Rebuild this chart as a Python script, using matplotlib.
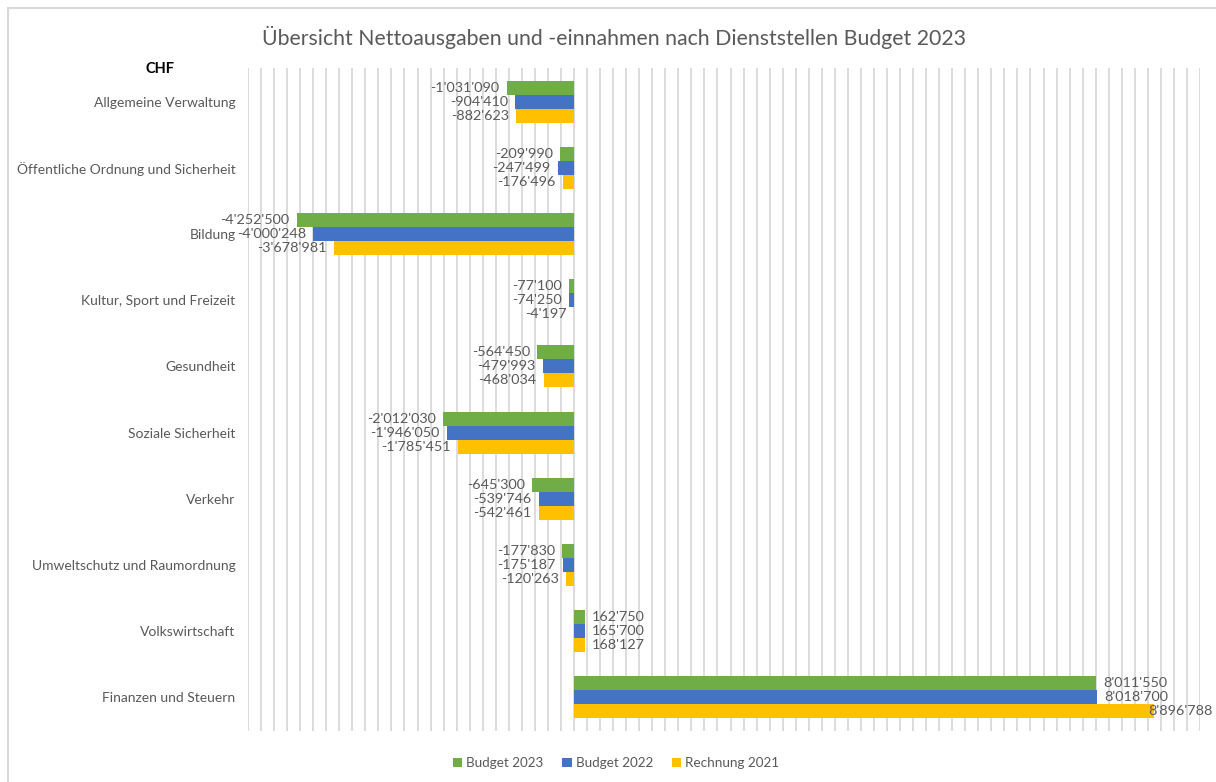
import matplotlib
matplotlib.use("Agg")
import matplotlib.pyplot as plt
from matplotlib.patches import Rectangle
import numpy as np

plt.rcParams['font.family'] = ['Lato', 'DejaVu Sans']

categories = ["Allgemeine Verwaltung", "Öffentliche Ordnung und Sicherheit", "Bildung",
              "Kultur, Sport und Freizeit", "Gesundheit", "Soziale Sicherheit", "Verkehr",
              "Umweltschutz und Raumordnung", "Volkswirtschaft", "Finanzen und Steuern"]
budget_2023 = [-1031090, -209990, -4252500, -77100, -564450, -2012030, -645300, -177830, 162750, 8011550]
budget_2022 = [-904410, -247499, -4000248, -74250, -479993, -1946050, -539746, -175187, 165700, 8018700]
rechnung_2021 = [-882623, -176496, -3678981, -4197, -468034, -1785451, -542461, -120263, 168127, 8896788]

series = [("Budget 2023", budget_2023, "#70AD47"),
          ("Budget 2022", budget_2022, "#4472C4"),
          ("Rechnung 2021", rechnung_2021, "#FFC000")]

grey = "#595959"

fig = plt.figure(figsize=(12.16, 7.82), dpi=100)
ax = fig.add_axes([248/1216, 1-730.5/782, 952/1216, 662/782])

y = np.arange(len(categories))
h = 0.212
labels = []
for i, (name, vals, col) in enumerate(series):
    pos = y + (i - 1) * h
    ax.barh(pos, vals, height=h, color=col, label=name, zorder=2)
    for p, v in zip(pos, vals):
        txt = f"{v:,}".replace(",", "'")
        if v < 0:
            t = ax.text(v - 110000, p, txt, ha="right", va="center", fontsize=10.4, color=grey, zorder=3)
        else:
            t = ax.text(v + 110000, p, txt, ha="left", va="center", fontsize=10.4, color=grey, zorder=3)
        labels.append(t)

ax.set_xlim(-5000000, 9600000)
ax.set_ylim(len(categories) - 0.5, -0.5)
ax.set_xticks(np.arange(-5000000, 9600001, 200000))
ax.xaxis.grid(True, color="#d9d9d9", linewidth=1.3, zorder=0)
ax.tick_params(axis="x", length=0, labelbottom=False)
ax.set_yticks(y)
ax.set_yticklabels(categories, fontsize=10, color=grey)
ax.tick_params(axis="y", length=0, pad=9)
for s in ax.spines.values():
    s.set_visible(False)

# keep labels inside the picture, like Excel does
fig.canvas.draw()
r = fig.canvas.get_renderer()
for t in labels:
    bb = t.get_window_extent(r)
    if bb.x1 > 1213:
        x_disp, y_disp = ax.transData.transform(t.get_position())
        t.set_position(ax.transData.inverted().transform((x_disp - (bb.x1 - 1213), y_disp)))

fig.text(614/1216, 1-37/782, "Übersicht Nettoausgaben und -einnahmen nach Dienststellen Budget 2023",
         ha="center", va="center", fontsize=15.3, color=grey)
fig.text(160/1216, 1-69/782, "CHF", ha="center", va="center", fontsize=10.5,
         fontweight="bold", color="black")

fig.legend(loc="center", bbox_to_anchor=(616/1216, 1-763/782), ncol=3, frameon=False,
           fontsize=9.7, handlelength=0.7, handleheight=0.7, handletextpad=0.3,
           columnspacing=1.4, labelcolor=grey)

fig.patches.append(Rectangle((8/1216, -0.1), 2, 1.1 - 7.5/782, transform=fig.transFigure,
                             fill=False, edgecolor="#d9d9d9", linewidth=1.5))

fig.savefig("out.png", dpi=100)
